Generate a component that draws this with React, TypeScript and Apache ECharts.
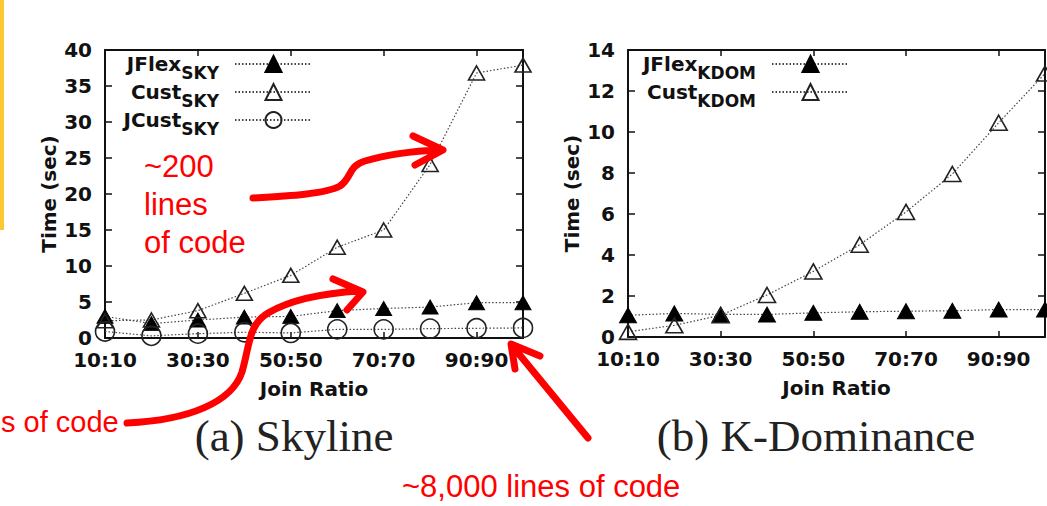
import React, { useEffect, useRef } from 'react';
import * as echarts from 'echarts';

const categories = ['10:10', '20:20', '30:30', '40:40', '50:50', '60:60', '70:70', '80:80', '90:90', '100:100'];

const jflexSky = [3.0, 2.0, 2.5, 2.9, 3.0, 3.8, 4.1, 4.3, 4.9, 4.9];
const custSky = [2.4, 2.5, 3.8, 6.2, 8.7, 12.6, 15.0, 24.1, 36.8, 37.9];
const jcustSky = [0.9, 0.3, 0.6, 0.8, 0.7, 1.2, 1.2, 1.3, 1.35, 1.4];

const jflexKdom = [1.06, 1.15, 1.1, 1.1, 1.18, 1.23, 1.26, 1.28, 1.34, 1.34];
const custKdom = [0.25, 0.57, 1.06, 2.05, 3.2, 4.5, 6.1, 7.95, 10.45, 12.85];

const skyLegend = ['JFlex_SKY', 'Cust_SKY', 'JCust_SKY'];
const kdomLegend = ['JFlex_KDOM', 'Cust_KDOM'];

const ARROW_A = 'M253,198 C290,196 325,194 340,186 C352,178 348,166 365,161 C385,155 415,151 440,150 M413,136 L443,150 L415,165';
const ARROW_B = 'M127,423 C190,420 232,402 242,372 C250,345 248,325 268,313 C290,300 325,293 360,291 M333,279 L363,292 L347,310';
const ARROW_C = 'M588,438 L514,348 M515,369 L511,344 L540,356';

echarts.graphic.registerShape('arrowA', echarts.graphic.extendPath(ARROW_A, {}));
echarts.graphic.registerShape('arrowB', echarts.graphic.extendPath(ARROW_B, {}));
echarts.graphic.registerShape('arrowC', echarts.graphic.extendPath(ARROW_C, {}));

const FONT = 'DejaVu Sans';
const INK = '#111';

function xAxisBottom(gi: number) {
  return {
    type: 'category', gridIndex: gi, data: categories, boundaryGap: false, position: 'bottom',
    axisLine: { show: true, onZero: false, lineStyle: { color: INK, width: 2 } },
    axisTick: { show: true, inside: true, interval: 1, length: 6, lineStyle: { color: INK, width: 1.5 } },
    axisLabel: { interval: 1, margin: 12, fontFamily: FONT, fontWeight: 'bold', fontSize: 20, color: INK },
    splitLine: { show: false },
    name: 'Join Ratio', nameLocation: 'middle', nameGap: 41,
    nameTextStyle: { fontFamily: FONT, fontWeight: 'bold', fontSize: 20, color: INK },
  };
}
function xAxisTop(gi: number) {
  return {
    type: 'category', gridIndex: gi, data: categories, boundaryGap: false, position: 'top',
    axisLine: { show: true, onZero: false, lineStyle: { color: INK, width: 2 } },
    axisTick: { show: true, inside: true, interval: 1, length: 6, lineStyle: { color: INK, width: 1.5 } },
    axisLabel: { show: false }, splitLine: { show: false },
  };
}
function yAxisLeft(gi: number, max: number, interval: number) {
  return {
    type: 'value', gridIndex: gi, min: 0, max, interval, position: 'left',
    axisLine: { show: true, onZero: false, lineStyle: { color: INK, width: 2 } },
    axisTick: { show: true, inside: true, length: 7, lineStyle: { color: INK, width: 1.5 } },
    axisLabel: { margin: 13, fontFamily: FONT, fontWeight: 'bold', fontSize: 20, color: INK },
    splitLine: { show: false },
    name: 'Time (sec)', nameLocation: 'middle', nameGap: 46, nameRotate: 90,
    nameTextStyle: { fontFamily: FONT, fontWeight: 'bold', fontSize: 20, color: INK },
  };
}
function yAxisRight(gi: number, max: number, interval: number) {
  return {
    type: 'value', gridIndex: gi, min: 0, max, interval, position: 'right',
    axisLine: { show: true, onZero: false, lineStyle: { color: INK, width: 2 } },
    axisTick: { show: true, inside: true, length: 7, lineStyle: { color: INK, width: 1.5 } },
    axisLabel: { show: false }, splitLine: { show: false },
  };
}

function lineSeries(name: string, data: number[], ai: number, symbol: string, size: number | number[], filled: boolean) {
  return {
    type: 'line', name, data, xAxisIndex: ai, yAxisIndex: ai, symbol, symbolSize: size,
    showAllSymbol: true, clip: false,
    lineStyle: { color: '#444', width: 1.2, type: [1.5, 2] },
    itemStyle: filled
      ? { color: '#000', borderColor: '#000', borderWidth: 1 }
      : { color: 'rgba(255,255,255,0)', borderColor: '#222', borderWidth: 1.6 },
    emphasis: { disabled: true },
  };
}

const legendFormatter = (name: string) => {
  const [a, b] = name.split('_');
  return `{m|${a}}{s|${b}}`;
};
const legendRich = {
  m: { fontFamily: FONT, fontWeight: 'bold', fontSize: 20, lineHeight: 20, color: INK, verticalAlign: 'top' },
  s: { fontFamily: FONT, fontWeight: 'bold', fontSize: 17, lineHeight: 14, color: INK, verticalAlign: 'top', padding: [10, 11, 0, 0] },
};
function legend(data: string[], right: number, top: number) {
  return {
    orient: 'vertical', right, top, align: 'right', itemWidth: 77, itemHeight: 20, itemGap: 1, padding: 0,
    selectedMode: false, data, formatter: legendFormatter, textStyle: { rich: legendRich },
  };
}

const redText = (text: string, x: number, y: number, align = 'left', size = 31) => ({
  type: 'text', x, y, z: 100,
  style: { text, fill: '#ff0000', font: `${size}px "Liberation Sans"`, textAlign: align, textVerticalAlign: 'middle' },
});
const serifText = (text: string, x: number, y: number) => ({
  type: 'text', x, y, z: 100,
  style: { text, fill: '#222', font: '45px "Liberation Serif"', textAlign: 'center', textVerticalAlign: 'middle' },
});
const arrow = (type: string) => ({
  type, x: 0, y: 0, z: 100,
  style: { stroke: '#ff0000', lineWidth: 7, fill: 'none', lineCap: 'round', lineJoin: 'round' },
});

const option = {
  animation: false,
  backgroundColor: '#ffffff',
  grid: [
    { left: 105, top: 50, width: 418, height: 288 },
    { left: 628, top: 50, width: 417, height: 287 },
  ],
  xAxis: [xAxisBottom(0), xAxisTop(0), xAxisBottom(1), xAxisTop(1)],
  yAxis: [yAxisLeft(0, 40, 5), yAxisRight(0, 40, 5), yAxisLeft(1, 14, 2), yAxisRight(1, 14, 2)],
  legend: [legend(skyLegend, 1047 - 313, 54), legend(kdomLegend, 1047 - 850, 54)],
  series: [
    lineSeries('JFlex_SKY', jflexSky, 0, 'triangle', [16, 14], true),
    lineSeries('Cust_SKY', custSky, 0, 'triangle', [16, 14], false),
    lineSeries('JCust_SKY', jcustSky, 0, 'circle', 19, false),
    lineSeries('JFlex_KDOM', jflexKdom, 2, 'triangle', [17, 15], true),
    lineSeries('Cust_KDOM', custKdom, 2, 'triangle', [17, 15], false),
  ],
  graphic: [
    { type: 'rect', x: 0, y: 0, z: 100, shape: { x: 0, y: 0, width: 4, height: 230 }, style: { fill: '#fcc832' } },
    serifText('(a) Skyline', 294, 436),
    serifText('(b) K-Dominance', 816, 436),
    redText('~200', 144, 166),
    redText('lines', 144, 204),
    redText('of code', 144, 242),
    redText('s of code', 1, 422, 'left', 29),
    redText('~8,000 lines of code', 402, 486),
    arrow('arrowA'),
    arrow('arrowB'),
    arrow('arrowC'),
  ],
};

export default function App() {
  const ref = useRef<HTMLDivElement>(null);
  useEffect(() => {
    const chart = echarts.init(ref.current!, null, { renderer: 'svg' });
    chart.setOption(option as any);
    return () => chart.dispose();
  }, []);
  return (
    <div
      ref={ref}
      style={{ position: 'fixed', left: 0, top: 0, width: 1047, height: 506, background: '#fff' }}
    />
  );
}
